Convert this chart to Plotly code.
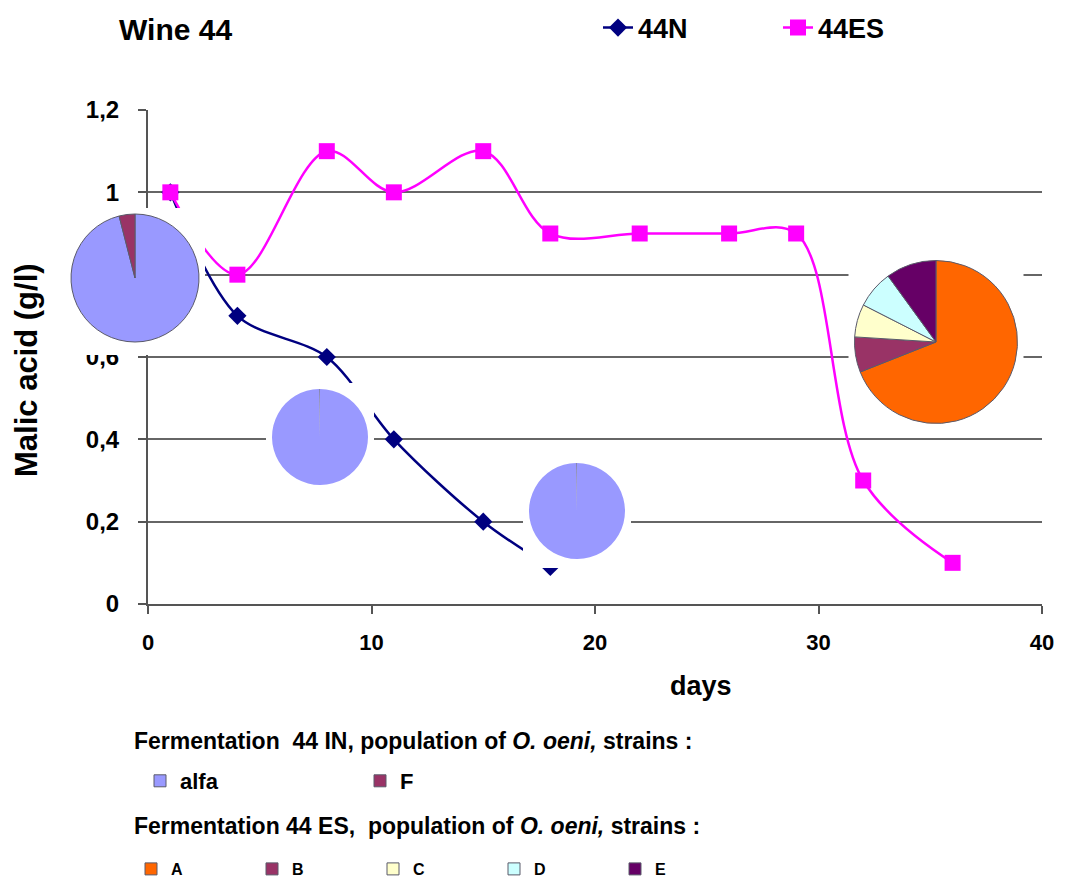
import plotly.graph_objects as go

# ---------------- data ----------------
days_in = [1, 4, 8, 11, 15, 18]
malic_in = [1.0, 0.7, 0.6, 0.4, 0.2, 0.09]

days_es = [1, 4, 8, 11, 15, 18, 22, 26, 29, 32, 36]
malic_es = [1.0, 0.8, 1.1, 1.0, 1.1, 0.9, 0.9, 0.9, 0.9, 0.3, 0.1]

in_strains = ["alfa", "F"]
in_colors = ["#9999FF", "#993366"]
pie_in_day1 = [96, 4]
pie_in_day8 = [99.7, 0.3]
pie_in_day19 = [99.7, 0.3]

es_strains = ["A", "B", "C", "D", "E"]
es_colors = ["#FF6600", "#993366", "#FFFFCC", "#CCFFFF", "#660066"]
pie_es_end = [69, 7, 6.5, 7.5, 10]

x_ticks = [0, 10, 20, 30, 40]
y_ticks = [0, 0.2, 0.4, 0.6, 0.8, 1.0, 1.2]
y_ticktext = ["0", "0,2", "0,4", "0,6", "0,8", "1", "1,2"]

# ---------------- layout helpers ----------------
W, H = 1069, 881
FONT = "Liberation Sans, Arial, sans-serif"


def fx(px):
    return px / W


def fy(py):
    return 1 - py / H


PLOT_L, PLOT_R, PLOT_B, PLOT_T = 148, 1042, 604, 110

fig = go.Figure()

fig.add_trace(go.Scatter(
    x=days_in, y=malic_in, name="44N", mode="lines+markers",
    line=dict(color="#000080", width=2.5, shape="spline", smoothing=0.9),
    marker=dict(symbol="diamond", size=14, color="#000080"),
))
fig.add_trace(go.Scatter(
    x=days_es, y=malic_es, name="44ES", mode="lines+markers",
    line=dict(color="#FF00FF", width=2.5, shape="spline"),
    marker=dict(symbol="square", size=16, color="#FF00FF"),
))

thin_colors = ["#9999FF", "#7878a8"]

# pies: (values, labels, colors, centre x px, centre y px, radius px, border width, legend, showlegend, extra bottom pad)
pies = [
    (pie_in_day1, in_strains, in_colors, 135, 278, 64, 1.0, "legend2", True, 7),
    (pie_in_day8, in_strains, thin_colors, 320, 437, 48, 0.0, "legend2", False, 0),
    (pie_in_day19, in_strains, thin_colors, 577, 511, 48, 0.0, "legend2", False, 3),
    (pie_es_end, es_strains, es_colors, 936, 342, 81.5, 1.0, "legend3", True, 0),
]

layout_axes = {}
PAD = 6
for k, (vals, labs, cols, cx, cy, r, lw, lg, sl, eb) in enumerate(pies, start=2):
    # white backing panel (inset subplot background) behind each pie
    layout_axes[f"xaxis{k}"] = dict(domain=[fx(cx - r - PAD), fx(cx + r + PAD)],
                                    anchor=f"y{k}", visible=False)
    layout_axes[f"yaxis{k}"] = dict(domain=[fy(cy + r + PAD + eb), fy(cy - r - PAD)],
                                    anchor=f"x{k}", visible=False)
    fig.add_trace(go.Scatter(x=[None], y=[None], xaxis=f"x{k}", yaxis=f"y{k}",
                             showlegend=False, hoverinfo="skip"))

for vals, labs, cols, cx, cy, r, lw, lg, sl, eb in pies:
    fig.add_trace(go.Pie(
        values=vals, labels=labs,
        marker=dict(colors=cols, line=dict(color="#5a5a6a", width=lw)),
        domain=dict(x=[fx(cx - r), fx(cx + r)], y=[fy(cy + r), fy(cy - r)]),
        sort=False, direction="clockwise", rotation=0,
        textinfo="none", hoverinfo="label+percent",
        showlegend=sl, legend=lg,
    ))

fig.update_layout(
    width=W, height=H,
    margin=dict(l=0, r=0, t=0, b=0, autoexpand=False),
    paper_bgcolor="white", plot_bgcolor="white",
    font=dict(family=FONT, color="black"),
    xaxis=dict(
        domain=[fx(PLOT_L), fx(PLOT_R)], range=[0, 40], tickvals=x_ticks,
        showgrid=False, zeroline=False, showline=True, linecolor="#555", linewidth=2,
        ticks="outside", ticklen=8, tickwidth=2, tickcolor="#555",
        tickfont=dict(size=22, weight="bold", family=FONT), ticklabelstandoff=10,
    ),
    yaxis=dict(
        domain=[fy(PLOT_B), fy(PLOT_T)], range=[0, 1.2], tickvals=y_ticks, ticktext=y_ticktext,
        showgrid=True, gridcolor="#666", gridwidth=1.6, zeroline=False,
        showline=True, linecolor="#555", linewidth=2,
        ticks="outside", ticklen=8, tickwidth=2, tickcolor="#555",
        tickfont=dict(size=24, weight="bold", family=FONT), ticklabelstandoff=14,
    ),
    legend=dict(
        orientation="h", x=fx(598), y=fy(28), xanchor="left", yanchor="middle",
        font=dict(size=27, weight="bold"), entrywidth=135, bgcolor="rgba(0,0,0,0)",
    ),
    legend2=dict(
        orientation="h", x=fx(140), y=fy(781), xanchor="left", yanchor="middle",
        font=dict(size=22, weight="bold"), entrywidth=175, bgcolor="rgba(0,0,0,0)",
    ),
    legend3=dict(
        orientation="h", x=fx(131), y=fy(869), xanchor="left", yanchor="middle",
        font=dict(size=16, weight="bold"), entrywidth=76, bgcolor="rgba(0,0,0,0)",
    ),
    **layout_axes,
)

annos = [
    dict(text="<b>Wine 44</b>", x=fx(117), y=fy(29), xanchor="left", yanchor="middle", size=30),
    dict(text="<b>days</b>", x=fx(701), y=fy(686), xanchor="center", yanchor="middle", size=27),
    dict(text="<b>Fermentation  44 IN, population of <i>O. oeni,</i> strains :</b>",
         x=fx(132), y=fy(741), xanchor="left", yanchor="middle", size=23),
    dict(text="<b>Fermentation 44 ES,  population of <i>O. oeni,</i> strains :</b>",
         x=fx(132), y=fy(826), xanchor="left", yanchor="middle", size=23),
]
for a in annos:
    fig.add_annotation(text=a["text"], x=a["x"], y=a["y"], xref="paper", yref="paper",
                       xanchor=a["xanchor"], yanchor=a["yanchor"], showarrow=False,
                       font=dict(size=a["size"], family=FONT, color="black"))
fig.add_annotation(text="<b>Malic acid (g/l)</b>", x=fx(26), y=fy(370), xref="paper", yref="paper",
                   textangle=-90, showarrow=False, xanchor="center", yanchor="middle",
                   font=dict(size=31, family=FONT, color="black"))

fig.write_html("out.html", config={"displayModeBar": False},
               post_script="document.body.style.margin='0';")
